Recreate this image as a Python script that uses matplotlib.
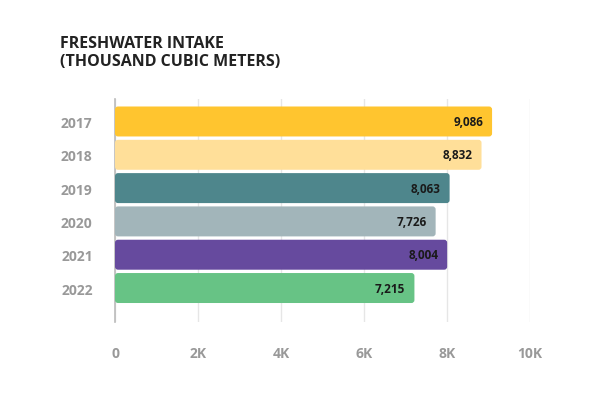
import matplotlib
matplotlib.use("Agg")
import matplotlib.pyplot as plt
from matplotlib.patches import FancyBboxPatch

years = ["2017", "2018", "2019", "2020", "2021", "2022"]
values = [9086, 8832, 8063, 7726, 8004, 7215]
colors = ["#FFC52F", "#FFDF99", "#4E868C", "#A2B5BA", "#664A9E", "#67C385"]
xticks = [0, 2000, 4000, 6000, 8000, 10000]
xtick_labels = ["0", "2K", "4K", "6K", "8K", "10K"]

plt.rcParams['font.family'] = ['Open Sans', 'DejaVu Sans']

fig = plt.figure(figsize=(6, 4.02), dpi=100)
ax = fig.add_axes([115/600, 1-323/402, 415/600, 223/402])

bars = ax.barh(range(len(years)), values, height=0.9, color=colors)
xunit = 10000/415
yunit = (6.02+0.675)/223
for b, c in zip(bars, colors):
    x0, y0 = b.get_x(), b.get_y()
    w, h = b.get_width(), b.get_height()
    b.set_visible(False)
    p = FancyBboxPatch((x0, y0), w, h,
                       boxstyle=f"round,pad=0,rounding_size={3*xunit}",
                       mutation_aspect=yunit/xunit,
                       facecolor=c, edgecolor="none", zorder=3)
    ax.add_patch(p)

for i, v in enumerate(values):
    ax.text(v - 9*xunit, i, f"{v:,}", ha="right", va="center",
            fontsize=8.5, fontweight="bold", color="#1a1a1a", zorder=4)

ax.set_xlim(0, 10000)
ax.set_ylim(5 + 1.02, -0.675)
ax.set_yticks(range(len(years)))
ax.set_yticklabels(years)
ax.set_xticks(xticks)
ax.set_xticklabels(xtick_labels)
ax.tick_params(axis="both", length=0, colors="#999999", labelsize=10)
for lab in ax.get_xticklabels() + ax.get_yticklabels():
    lab.set_fontweight("bold")
ax.tick_params(axis="x", pad=17)
ax.tick_params(axis="y", pad=16)
ax.grid(axis="x", color="#E6E6E6", linewidth=1, zorder=0)
ax.set_axisbelow(True)
for s in ["top", "right", "bottom"]:
    ax.spines[s].set_visible(False)
ax.spines["left"].set_color("#BBBBBB")
ax.spines["left"].set_linewidth(1.2)

fig.text(60/600, 1-53/402, "FRESHWATER INTAKE\n(THOUSAND CUBIC METERS)",
         ha="left", va="center", fontsize=11.5, fontweight="bold",
         color="#222222", linespacing=1.2)

fig.savefig("out.png", dpi=100, facecolor="white")
